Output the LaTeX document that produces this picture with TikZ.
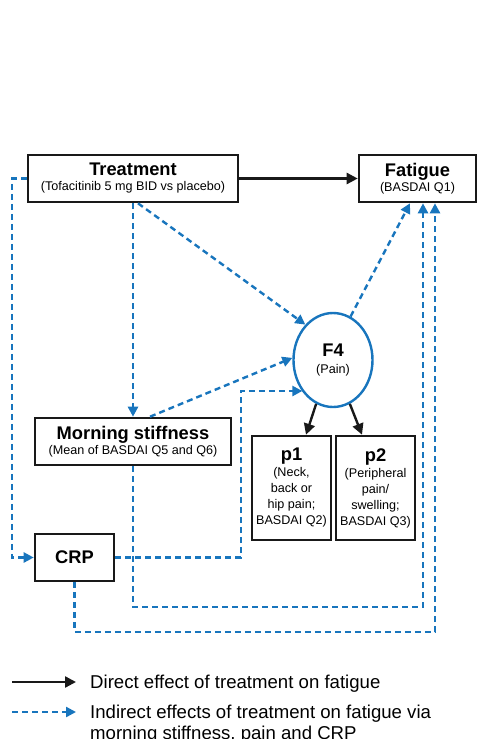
\documentclass[tikz,border=0pt]{standalone}
\usepackage{fontspec}
\setmainfont{Liberation Sans}
\usetikzlibrary{arrows.meta,shapes.geometric,calc}
\definecolor{pathblue}{RGB}{24,117,189}
\newcommand{\ttl}[1]{{\fontsize{18.3}{15}\selectfont\bfseries #1}}

\begin{document}
\begin{tikzpicture}[x=1pt,y=-1pt,
  box/.style={draw=black!90, line width=2.6pt, inner sep=0pt, align=center,
    font=\fontsize{12.6}{15}\selectfont},
  pbox/.style={box, font=\fontsize{12.6}{16}\selectfont},
  latent/.style={ellipse, draw=pathblue, line width=2.4pt, inner sep=0pt,
    align=center, font=\fontsize{12.6}{17}\selectfont},
  direct/.style={draw=black!90, line width=2.4pt, -{Triangle[length=11pt,width=11pt]}},
  ind/.style={draw=pathblue, line width=2.4pt, dash pattern=on 6pt off 4pt,
    -{Triangle[length=10pt,width=10pt]}},
  legtext/.style={font=\fontsize{18.6}{22}\selectfont, align=left, inner sep=0pt},
]
\useasboundingbox (0,0) rectangle (478,739);

% main variables
\node[box, minimum width=210, minimum height=47] (treat) at (133,178.5)
  {\ttl{Treatment}\\(Tofacitinib 5 mg BID vs placebo)};
\node[box, minimum width=117, minimum height=47] (fat) at (417.5,178.5)
  {\ttl{Fatigue}\\(BASDAI Q1)};
\node[box, minimum width=196, minimum height=47] (ms) at (133,441.5)
  {\ttl{Morning stiffness}\\(Mean of BASDAI Q5 and Q6)};
\node[box, minimum width=79, minimum height=47] (crp) at (74.5,557.5)
  {\ttl{CRP}};
\node[latent, minimum width=79, minimum height=94] (f4) at (333,360)
  {\ttl{F4}\\(Pain)};
\node[pbox, minimum width=79, minimum height=104] (p1) at (291.5,488)
  {\ttl{p1}\\(Neck,\\back or\\hip pain;\\BASDAI Q2)};
\node[pbox, minimum width=79, minimum height=104] (p2) at (375.5,488)
  {\ttl{p2}\\(Peripheral\\pain/\\swelling;\\BASDAI Q3)};

% bend points of the routed paths
\coordinate (tl) at (12,178.5);
\coordinate (cf) at (241,391);
\coordinate (mf) at (423,607);
\coordinate (cfat) at (435,632);

% direct effect
\draw[direct] (treat.east) -- (fat.west);

% loadings of the pain factor
\draw[direct] (f4.249) -- ([xshift=14.5]p1.north);
\draw[direct] (f4.291) -- ([xshift=-13.5]p2.north);

% indirect paths
\draw[ind] (treat.west) -- (tl) |- (crp.west);
\draw[ind] (treat.south) -- (ms.north);
\draw[ind] ([xshift=5]treat.south) -- (f4.128);
\draw[ind] ([xshift=17]ms.north) -- (f4.177);
\draw[ind] (crp.east) -| (cf) -- (cf -| f4.226);
\draw[ind] (f4.68) -- ([xshift=-7.5]fat.south);
\draw[ind] (ms.south) |- (mf) -- (mf |- fat.south);
\draw[ind] (crp.south) |- (cfat) -- (cfat |- fat.south);

% legend
\coordinate (la) at (12,682);
\coordinate (lb) at (76,682);
\coordinate (lc) at (12,712);
\coordinate (ld) at (76,712);
\draw[direct] (la) -- (lb);
\draw[ind] (lc) -- (ld);
\node[legtext, anchor=base west] (lt1) at (90,688.5)
  {Direct effect of treatment on fatigue};
\node[legtext, anchor=base west] (lt2) at (90,718)
  {Indirect effects of treatment on fatigue via};
\node[legtext, anchor=base west] (lt3) at (90,739.5)
  {morning stiffness, pain and CRP};
\end{tikzpicture}
\end{document}
